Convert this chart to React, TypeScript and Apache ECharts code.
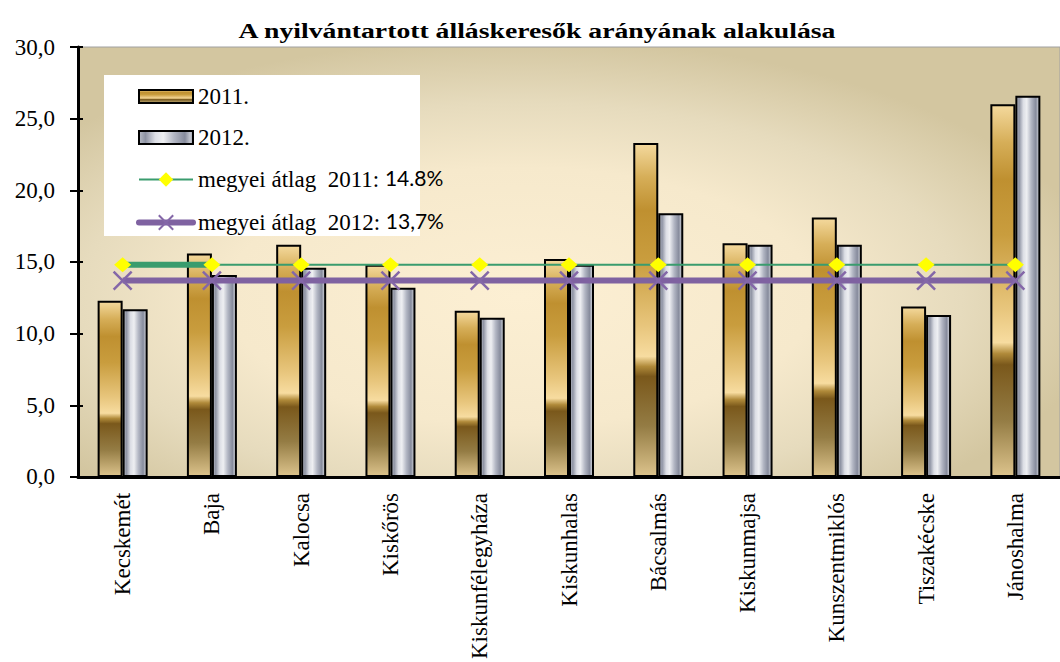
import React, { useEffect, useRef } from "react";
import * as echarts from "echarts";

const titleText = "A nyilvántartott álláskeresők arányának alakulása";
const cities = [
  "Kecskemét",
  "Baja",
  "Kalocsa",
  "Kiskőrös",
  "Kiskunfélegyháza",
  "Kiskunhalas",
  "Bácsalmás",
  "Kiskunmajsa",
  "Kunszentmiklós",
  "Tiszakécske",
  "Jánoshalma",
];
const values2011 = [12.3, 15.6, 16.2, 14.8, 11.6, 15.2, 23.3, 16.3, 18.1, 11.9, 26.0];
const values2012 = [11.7, 14.1, 14.6, 13.2, 11.1, 14.8, 18.4, 16.2, 16.2, 11.3, 26.6];
const avg2011 = [14.8, 14.8, 14.8, 14.8, 14.8, 14.8, 14.8, 14.8, 14.8, 14.8, 14.8];
const avg2012 = [13.7, 13.7, 13.7, 13.7, 13.7, 13.7, 13.7, 13.7, 13.7, 13.7, 13.7];
const avg2011Segment = [14.8, 14.8, null, null, null, null, null, null, null, null, null];
const seriesNames = ["2011.", "2012.", "megyei átlag  2011:", "megyei átlag  2012:"];
const avgLabels: Record<string, string> = {
  "megyei átlag  2011:": "14.8%",
  "megyei átlag  2012:": "13,7%",
};
const yTicks = { min: 0, max: 30, interval: 5 };

const serif = "Liberation Serif";
const barIcon = "path://M0,0L54,0L54,13L0,13Z";

const goldGradient = new echarts.graphic.LinearGradient(0, 0, 0, 1, [
  { offset: 0, color: "#f4d99d" },
  { offset: 0.1, color: "#d6ae58" },
  { offset: 0.2, color: "#bf9030" },
  { offset: 0.35, color: "#c99d3e" },
  { offset: 0.55, color: "#e8c67d" },
  { offset: 0.64, color: "#f7dca0" },
  { offset: 0.67, color: "#b08a3a" },
  { offset: 0.7, color: "#7a581b" },
  { offset: 0.85, color: "#947c44" },
  { offset: 1, color: "#dcc38c" },
]);

const silverGradient = new echarts.graphic.LinearGradient(0, 0, 1, 0, [
  { offset: 0, color: "#b8bcc6" },
  { offset: 0.12, color: "#8e93a3" },
  { offset: 0.3, color: "#dcdee5" },
  { offset: 0.45, color: "#eeeff2" },
  { offset: 0.65, color: "#b2b6c3" },
  { offset: 0.85, color: "#868b9c" },
  { offset: 0.95, color: "#c4c7d0" },
  { offset: 1, color: "#9da1ae" },
]);

export default function App() {
  const ref = useRef<HTMLDivElement>(null);

  useEffect(() => {
    document.body.style.margin = "0";
    if (!ref.current) return;
    const chart = echarts.init(ref.current, undefined, { renderer: "svg" });
    const option: any = {
      animation: false,
      backgroundColor: "#ffffff",
      graphic: [
        {
          type: "text",
          x: 537,
          y: 31,
          scaleX: 1.32,
          z: 10,
          style: {
            text: titleText,
            fontFamily: serif,
            fontWeight: "bold",
            fontSize: 21,
            fill: "#000",
            align: "center",
            verticalAlign: "middle",
          },
        },
        {
          type: "rect",
          shape: { x: 104, y: 75, width: 316, height: 161 },
          style: { fill: "#ffffff" },
          z: 3,
        },
      ],
      legend: {
        left: 136,
        top: 85,
        orient: "vertical",
        padding: 0,
        itemGap: 18,
        itemWidth: 54,
        itemHeight: 18,
        z: 5,
        data: [
          { name: seriesNames[0], icon: barIcon },
          { name: seriesNames[1], icon: barIcon },
          { name: seriesNames[2], lineStyle: { width: 2 } },
          { name: seriesNames[3], lineStyle: { width: 6, cap: "round" } },
        ],
        formatter: (name: string) =>
          avgLabels[name] ? `{a|${name} }{b|${avgLabels[name]}}` : name,
        textStyle: {
          fontFamily: serif,
          fontSize: 23,
          lineHeight: 22,
          color: "#000",
          rich: {
            a: { fontFamily: serif, fontSize: 23, lineHeight: 22, color: "#000" },
            b: { fontFamily: "Lato", fontSize: 21, lineHeight: 22, color: "#000", padding: [0, 0, 4, 0] },
          },
        },
      },
      grid: {
        left: 78,
        right: -12,
        top: 47,
        bottom: 182,
        show: true,
        borderColor: "#a0a0a0",
        borderWidth: 1,
        backgroundColor: {
          type: "radial",
          x: 0.45,
          y: 0.58,
          r: 0.6,
          colorStops: [
            { offset: 0, color: "#fcefd3" },
            { offset: 0.5, color: "#f6e9cc" },
            { offset: 0.75, color: "#e6dbbd" },
            { offset: 1, color: "#d3c6a0" },
          ],
        },
      },
      xAxis: [
        {
          type: "category",
          data: cities,
          offset: 0,
          axisLine: { lineStyle: { color: "#000", width: 3 } },
          axisTick: { length: 7, lineStyle: { color: "#000", width: 2 } },
          axisLabel: {
            rotate: 90,
            margin: 16,
            fontFamily: serif,
            fontSize: 23,
            color: "#000",
          },
        },
        {
          type: "category",
          data: cities,
          position: "bottom",
          offset: 0,
          axisLine: { show: false },
          axisTick: { inside: true, length: 7, lineStyle: { color: "#000", width: 2 } },
          axisLabel: { show: false },
        },
      ],
      yAxis: [
        {
          type: "value",
          ...yTicks,
          offset: 0,
          axisLine: { show: true, lineStyle: { color: "#000", width: 3 } },
          axisTick: { show: true, length: 8, lineStyle: { color: "#000", width: 2 } },
          splitLine: { show: false },
          axisLabel: {
            margin: 23,
            fontFamily: serif,
            fontSize: 23,
            color: "#000",
            formatter: (v: number) => v.toFixed(1).replace(".", ","),
          },
        },
        {
          type: "value",
          ...yTicks,
          position: "left",
          offset: 0,
          axisLine: { show: false },
          axisTick: { show: true, inside: true, length: 5, lineStyle: { color: "#000", width: 2 } },
          splitLine: { show: false },
          axisLabel: { show: false },
        },
      ],
      series: [
        {
          name: seriesNames[0],
          type: "bar",
          data: values2011,
          barWidth: 25,
          barGap: "0%",
          itemStyle: { color: goldGradient, borderColor: "#000", borderWidth: 2 },
        },
        {
          name: seriesNames[1],
          type: "bar",
          data: values2012,
          barWidth: 25,
          barGap: "0%",
          itemStyle: { color: silverGradient, borderColor: "#000", borderWidth: 2 },
        },
        {
          name: "segment",
          type: "line",
          data: avg2011Segment,
          symbol: "none",
          lineStyle: { color: "#3a9c6e", width: 6 },
          connectNulls: false,
          z: 3,
        },
        {
          name: seriesNames[3],
          type: "line",
          data: avg2012,
          symbol: "path://M0,0L10,10M10,0L0,10",
          symbolSize: 18,
          lineStyle: { color: "#7f62a1", width: 6 },
          itemStyle: { color: "#8467a8", borderColor: "#8467a8", borderWidth: 2.5 },
          z: 4,
        },
        {
          name: seriesNames[2],
          type: "line",
          data: avg2011,
          symbol: "diamond",
          symbolSize: [17, 15],
          lineStyle: { color: "#3a9c6e", width: 2 },
          itemStyle: { color: "#ffff00" },
          z: 5,
        },
      ],
    };
    chart.setOption(option);
    return () => chart.dispose();
  }, []);

  return <div ref={ref} style={{ width: 1060, height: 662 }} />;
}
